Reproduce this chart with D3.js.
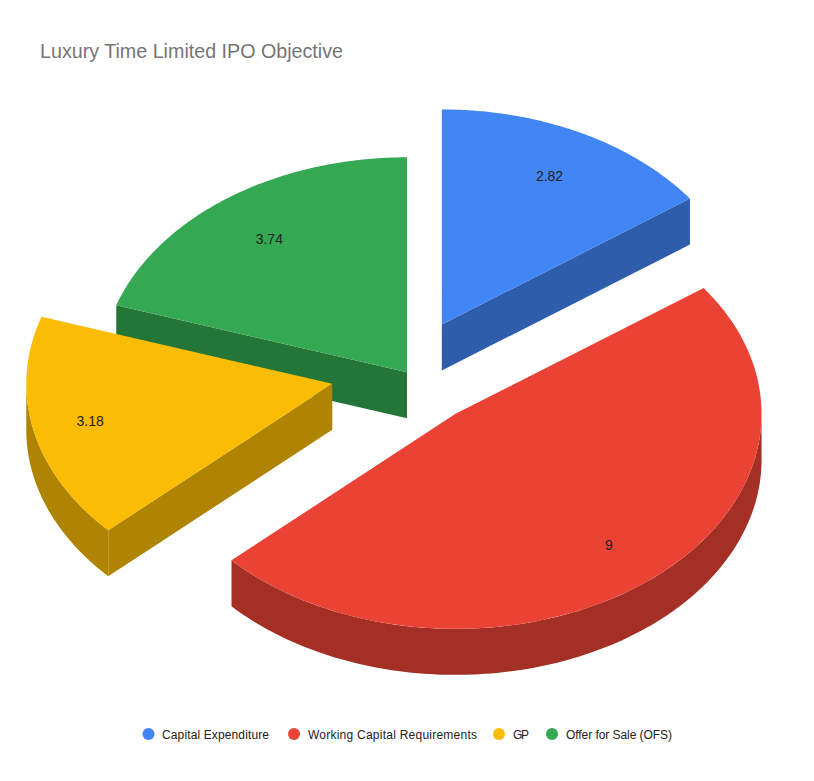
<!DOCTYPE html>
<html><head><meta charset="utf-8">
<script src="https://cdn.jsdelivr.net/npm/d3@7"></script>
<style>html,body{margin:0;padding:0;background:#fff}svg{display:block}text{font-family:"Liberation Sans",Arial,sans-serif}</style>
</head><body>
<div id="c"></div>
<script>
const chartTitle = "Luxury Time Limited IPO Objective";
const categories = ["Capital Expenditure","Working Capital Requirements","GP","Offer for Sale (OFS)"];
const values = [2.82,9,3.18,3.74];
const topColors = ["#4285F4","#EA4335","#FBBC04","#34A853"];
const sideColors = ["#2E5DAB","#A32F25","#B08403","#247538"];

const W=814,H=781, cx=407, cy=372.3, rx=306, ry=215, depth=46;
const explode=[.25,.25,.25,0], labelF=[.773,.79,.81,.767];
const svg=d3.select("#c").append("svg").attr("width",W).attr("height",H);
svg.append("rect").attr("width",W).attr("height",H).attr("fill","#fff");
svg.append("text").attr("x",40).attr("y",58).attr("font-size",20).attr("fill","#757575")
  .attr("textLength",303).attr("lengthAdjust","spacingAndGlyphs").text(chartTitle);

const arcs=d3.pie().sort(null).value(d=>d)(values);
const px=a=>rx*Math.sin(a), py=a=>-ry*Math.cos(a);
const line=d3.line();
const sample=(a0,a1)=>d3.range(0,121).map(i=>a0+(a1-a0)*i/120);
const slices=arcs.map((d,i)=>{const m=(d.startAngle+d.endAngle)/2;
  return {d,i,m,x:cx+explode[i]*px(m),y:cy+explode[i]*py(m)};});

slices.slice().sort((a,b)=>a.y-b.y).forEach(s=>{
  const {d,i,x,y}=s, g=svg.append("g").attr("transform",`translate(${x},${y})`);
  const face=a=>g.append("path").attr("fill",sideColors[i])
    .attr("d",line([[0,0],[px(a),py(a)],[px(a),py(a)+depth],[0,depth]])+"Z");
  if(Math.sin(d.startAngle)<-1e-6) face(d.startAngle);
  if(Math.sin(d.endAngle)>1e-6) face(d.endAngle);
  const lo=Math.max(d.startAngle,Math.PI/2), hi=Math.min(d.endAngle,3*Math.PI/2);
  if(hi>lo){
    const pts=sample(lo,hi);
    const outer=pts.map(a=>[px(a),py(a)]).concat(pts.slice().reverse().map(a=>[px(a),py(a)+depth]));
    g.append("path").attr("fill",sideColors[i]).attr("d",line(outer)+"Z");
  }
  const top=[[0,0]].concat(sample(d.startAngle,d.endAngle).map(a=>[px(a),py(a)]));
  g.append("path").attr("fill",topColors[i]).attr("d",line(top)+"Z");
});
slices.forEach(s=>{
  svg.append("text").attr("x",s.x+labelF[s.i]*px(s.m)).attr("y",s.y+labelF[s.i]*py(s.m)+5)
   .attr("text-anchor","middle").attr("font-size",14).attr("fill","#222").text(values[s.i]);
});
const legend=svg.append("g");
const items=[[148.5,162,107],[294,308,169],[499,513,16],[552,566,106]];
categories.forEach((c,i)=>{
  legend.append("circle").attr("cx",items[i][0]).attr("cy",734).attr("r",6).attr("fill",topColors[i]);
  legend.append("text").attr("x",items[i][1]).attr("y",738.5).attr("font-size",12).attr("fill","#222")
    .attr("textLength",items[i][2]).attr("lengthAdjust","spacing").text(c);
});
</script>
</body></html>
